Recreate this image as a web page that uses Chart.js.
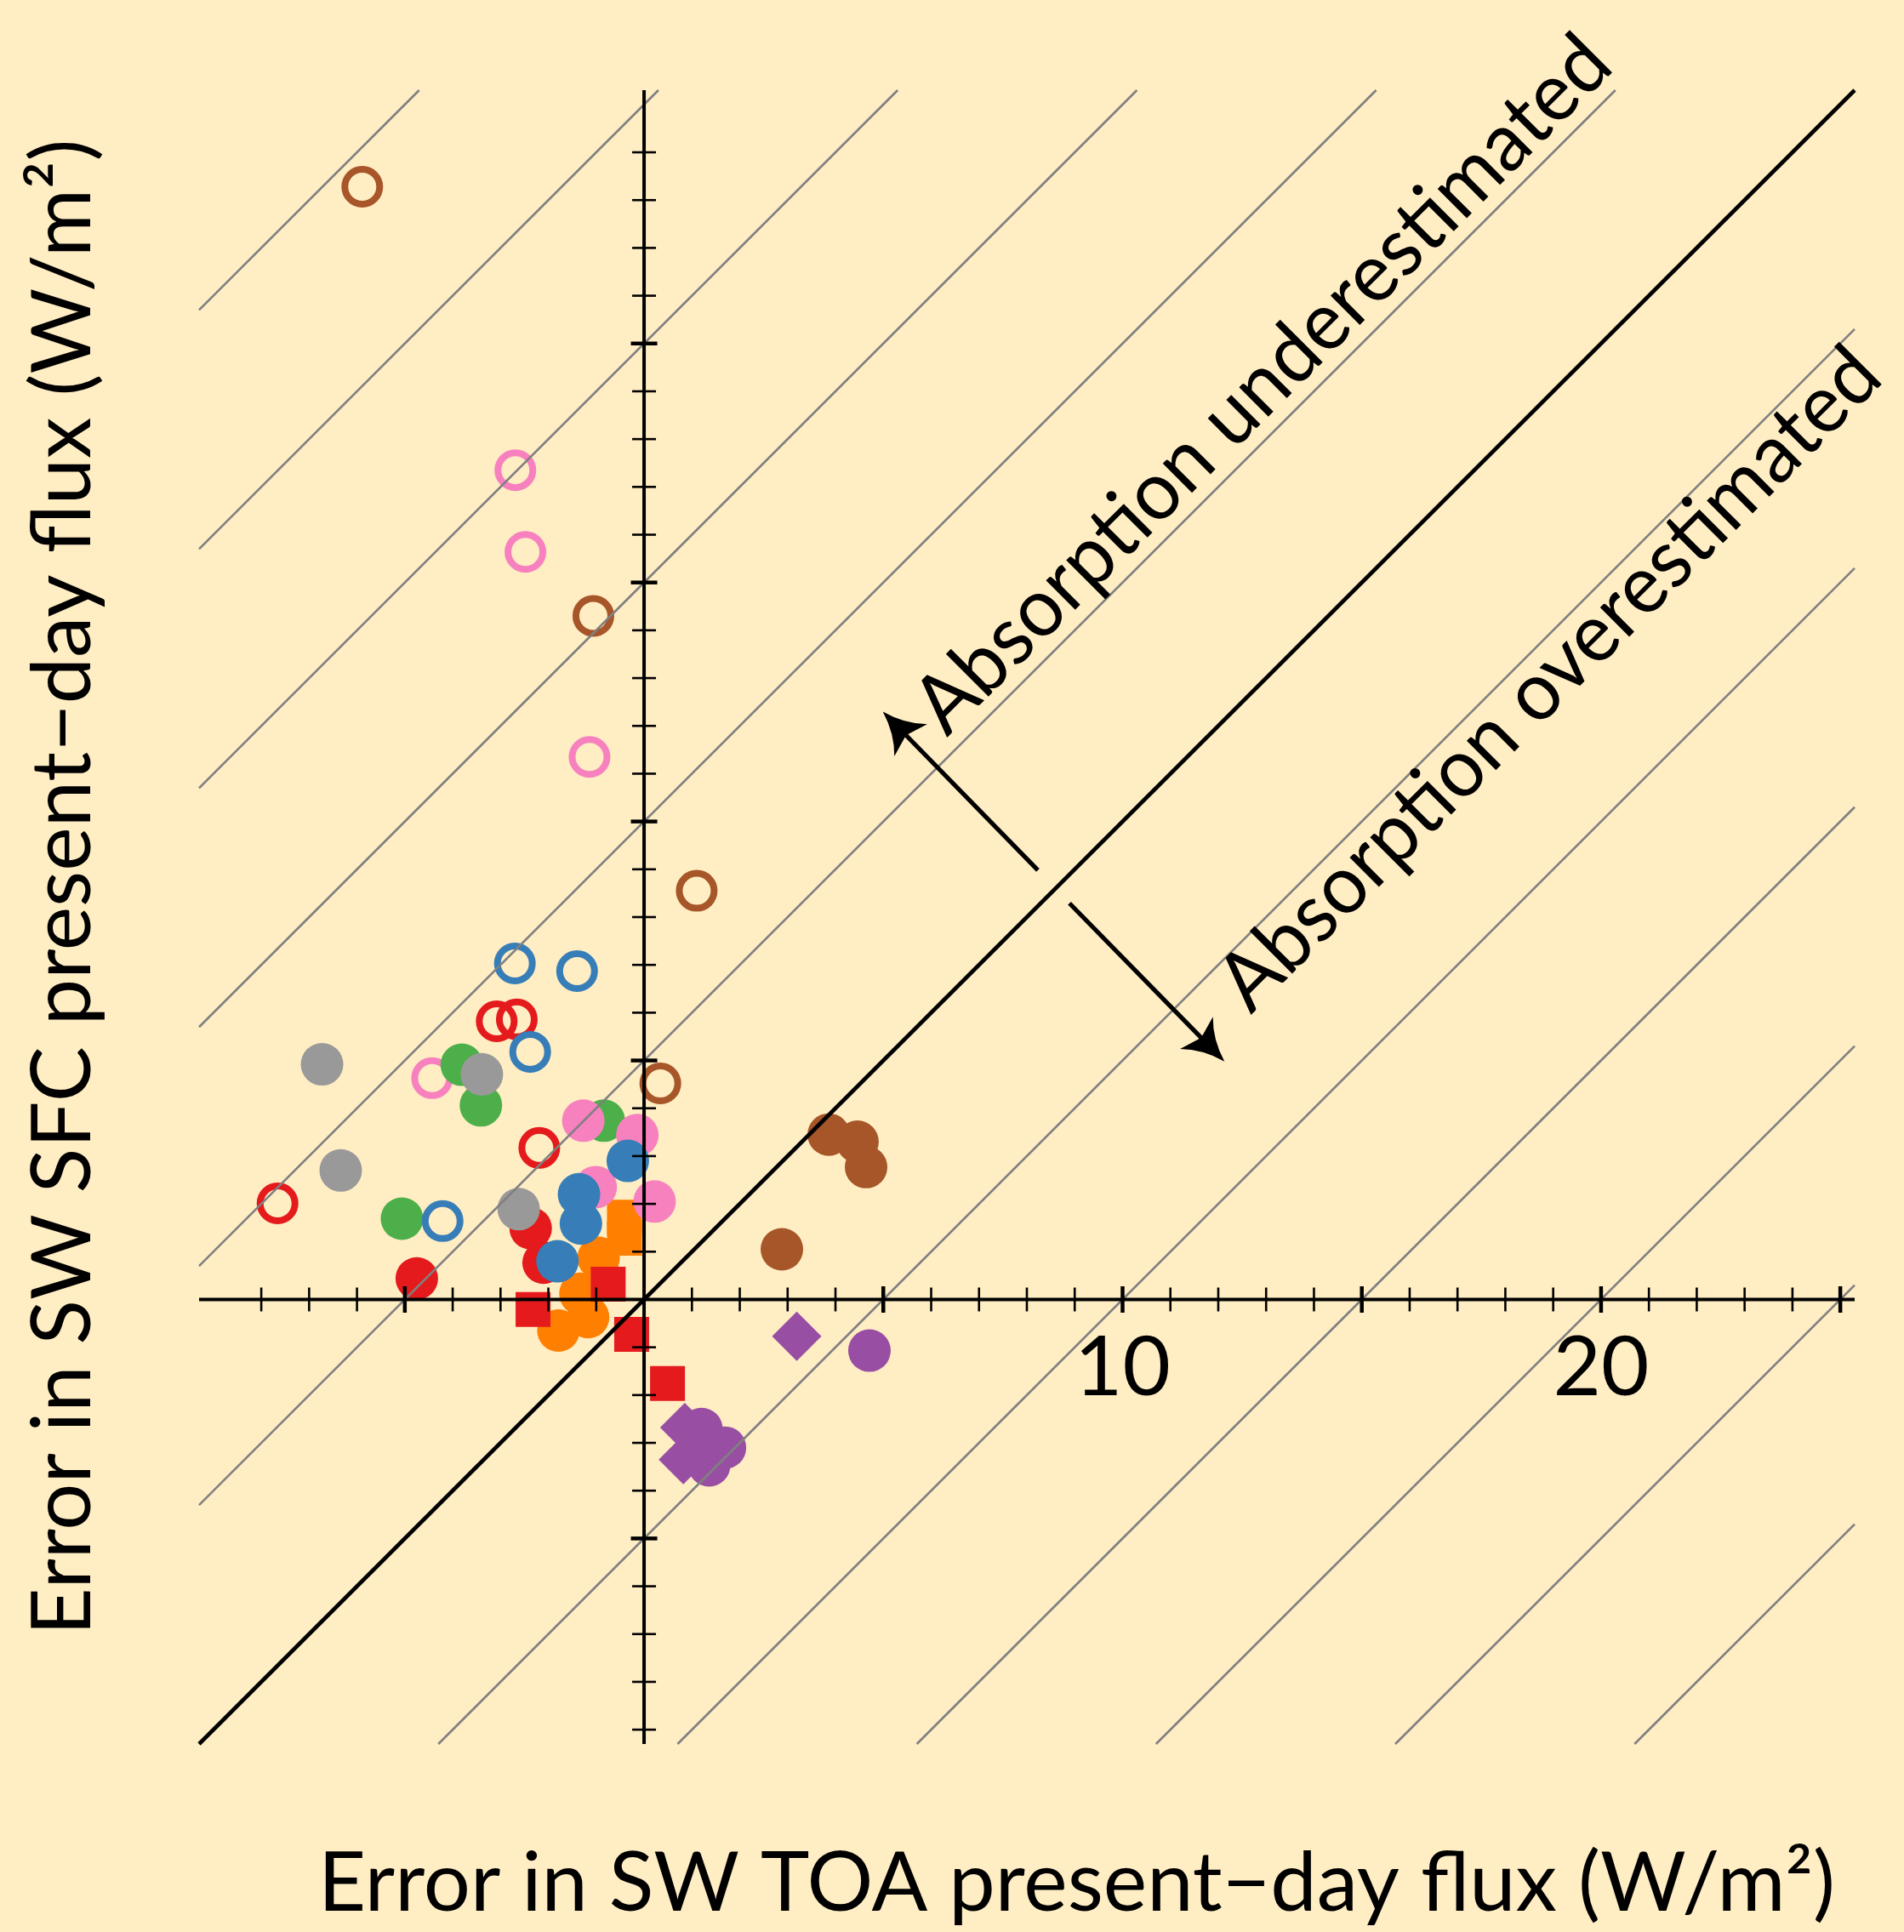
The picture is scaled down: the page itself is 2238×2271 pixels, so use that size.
<!DOCTYPE html>
<html lang="en">
<head>
<meta charset="UTF-8">
<title>SW flux errors: TOA vs surface</title>
<script src="https://cdn.jsdelivr.net/npm/chart.js"></script>
<style>
  html, body { margin: 0; padding: 0; background: #FFEDC4; }
  canvas { display: block; }
</style>
</head>
<body>
<canvas id="scatter" width="2238" height="2271"></canvas>
<script>
// axis ranges, ticks and labels
const xRange = [-9.3, 25.3];
const yRange = [-9.3, 25.3];
const xTicks = [-8, 25];
const yTicks = [-9, 24];
const xTickLabels = [10, 20];
const diagonalOffsets = [-30, -25, -20, -15, -10, -5, 5, 10, 15, 20, 25, 30];
const xTitle = 'Error in SW TOA present\u2212day flux (W/m\u00B2)';
const yTitle = 'Error in SW SFC present\u2212day flux (W/m\u00B2)';
const labelUnder = 'Absorption underestimated';
const labelOver = 'Absorption overestimated';

// [TOA error, SFC error] per series
const grayFilled = [[-6.73, 4.92], [-3.39, 4.71], [-6.34, 2.70], [-2.62, 1.89]];
const blueOpen = [[-2.70, 7.03], [-1.40, 6.87], [-2.38, 5.18], [-4.21, 1.64]];
const blueFilled = [[-0.34, 2.90], [-1.36, 2.20], [-1.32, 1.59], [-1.81, 0.80]];
const pinkFilled = [[-1.27, 3.74], [-0.14, 3.44], [-1.01, 2.35], [0.22, 2.05]];
const greenFilled = [[-3.81, 4.91], [-3.41, 4.06], [-0.84, 3.74], [-5.06, 1.69]];
const pinkOpen = [[-2.69, 17.35], [-2.48, 15.64], [-1.14, 11.35], [-4.43, 4.63]];
const redOpen = [[-3.08, 5.82], [-2.66, 5.86], [-2.19, 3.17], [-7.66, 2.01]];
const redFilled = [[-2.37, 1.49], [-2.10, 0.77], [-4.75, 0.44]];
const redSquare = [[-0.75, 0.32], [-2.32, -0.21], [-0.26, -0.73], [0.49, -1.76]];
const orangeFilled = [[-0.95, 0.87], [-1.33, 0.12], [-1.17, -0.37], [-1.79, -0.65]];
const orangeSquare = [[-0.41, 1.72], [-0.41, 1.28]];
const brownOpen = [[-5.89, 23.28], [-1.06, 14.30], [1.10, 8.55], [0.34, 4.52]];
const brownFilled = [[3.86, 3.45], [4.46, 3.30], [4.64, 2.77], [2.88, 1.05]];
const purpleDiamond = [[3.19, -0.77], [0.85, -2.68], [0.82, -3.35]];
const purpleFilled = [[4.71, -1.07], [1.20, -2.71], [1.69, -3.10], [1.36, -3.47]];

const colors = {
  gray: '#999999', blue: '#377EB8', pink: '#F781BF', green: '#4DAF4A',
  red: '#E41A1C', orange: '#FF7F00', brown: '#A65628', purple: '#984EA3'
};

function series(points, color, kind) {
  const ds = { data: points.map(p => ({ x: p[0], y: p[1] })) };
  if (kind === 'open') {
    Object.assign(ds, { pointStyle: 'circle', pointRadius: 20.5, pointBorderWidth: 8,
      pointBorderColor: color, pointBackgroundColor: 'rgba(0,0,0,0)' });
  } else if (kind === 'square') {
    Object.assign(ds, { pointStyle: 'rect', pointRadius: 29, pointBorderWidth: 0,
      pointBackgroundColor: color });
  } else if (kind === 'diamond') {
    Object.assign(ds, { pointStyle: 'rectRot', pointRadius: 29, pointBorderWidth: 0,
      pointBackgroundColor: color });
  } else {
    Object.assign(ds, { pointStyle: 'circle', pointRadius: 25, pointBorderWidth: 0,
      pointBackgroundColor: color });
  }
  ds.pointHoverRadius = ds.pointRadius;
  return ds;
}

const datasets = [
  series(grayFilled, colors.gray, 'filled'),
  series(blueOpen, colors.blue, 'open'),
  series(blueFilled, colors.blue, 'filled'),
  series(pinkFilled, colors.pink, 'filled'),
  series(greenFilled, colors.green, 'filled'),
  series(pinkOpen, colors.pink, 'open'),
  series(redOpen, colors.red, 'open'),
  series(redFilled, colors.red, 'filled'),
  series(redSquare, colors.red, 'square'),
  series(orangeFilled, colors.orange, 'filled'),
  series(orangeSquare, colors.orange, 'square'),
  series(brownOpen, colors.brown, 'open'),
  series(brownFilled, colors.brown, 'filled'),
  series(purpleDiamond, colors.purple, 'diamond'),
  series(purpleFilled, colors.purple, 'filled')
];

const FONT = '96px Lato, "Open Sans", sans-serif';

const background = {
  id: 'background',
  beforeDraw(chart) {
    const ctx = chart.ctx;
    ctx.save();
    ctx.fillStyle = '#FFEDC4';
    ctx.fillRect(0, 0, chart.width, chart.height);
    ctx.restore();
  }
};

const overlay = {
  id: 'overlay',
  afterDatasetsDraw(chart) {
    const { ctx, chartArea: a } = chart;
    const px = v => chart.scales.x.getPixelForValue(v);
    const py = v => chart.scales.y.getPixelForValue(v);
    const line = (x0, y0, x1, y1) => {
      ctx.beginPath(); ctx.moveTo(x0, y0); ctx.lineTo(x1, y1); ctx.stroke();
    };
    ctx.save();
    ctx.lineCap = 'butt';

    // lines of constant (SFC - TOA) error
    ctx.strokeStyle = '#808080';
    ctx.lineWidth = 2.6;
    diagonalOffsets.forEach(c => {
      const x0 = Math.max(xRange[0], yRange[0] - c);
      const x1 = Math.min(xRange[1], yRange[1] - c);
      if (x1 > x0) line(px(x0), py(x0 + c), px(x1), py(x1 + c));
    });

    // 1:1 line
    ctx.strokeStyle = '#000';
    ctx.lineWidth = 4.6;
    const lo = Math.max(xRange[0], yRange[0]), hi = Math.min(xRange[1], yRange[1]);
    line(px(lo), py(lo), px(hi), py(hi));

    // axes through the origin
    ctx.lineWidth = 4;
    line(a.left, py(0), a.right, py(0));
    line(px(0), a.top, px(0), a.bottom);

    // ticks crossing the axes
    for (let v = xTicks[0]; v <= xTicks[1]; v++) {
      if (v === 0) continue;
      const major = v % 5 === 0;
      ctx.lineWidth = major ? 4.5 : 2.6;
      const h = major ? 15.5 : 14;
      line(px(v), py(0) - h, px(v), py(0) + h);
    }
    for (let v = yTicks[0]; v <= yTicks[1]; v++) {
      if (v === 0) continue;
      const major = v % 5 === 0;
      ctx.lineWidth = major ? 4.5 : 2.6;
      const h = major ? 15.5 : 14;
      line(px(0) - h, py(v), px(0) + h, py(v));
    }

    // text: Lato squeezed to Gill-Sans-like width
    ctx.font = FONT;
    ctx.fillStyle = '#000';
    const sx = 1783 / ctx.measureText(xTitle).width;
    const text = (s, x, y, angle, align, squeeze = 1) => {
      ctx.save();
      ctx.translate(x, y);
      ctx.rotate(angle);
      ctx.scale(sx * squeeze, 1);
      ctx.textAlign = align;
      ctx.textBaseline = 'alphabetic';
      ctx.fillText(s, 0, 0);
      ctx.restore();
    };

    xTickLabels.forEach(v => text(String(v), px(v), py(0) + 113, 0, 'center'));

    text(labelUnder, px(6.33), py(11.75), -Math.PI / 4, 'left', 0.95);
    text(labelOver, px(12.68), py(5.95), -Math.PI / 4, 'left', 0.95);

    text(xTitle, 2157, 2246, 0, 'right');
    text(yTitle, 106, 1043, -Math.PI / 2, 'center');

    // arrows
    const arrow = (x0, y0, x1, y1) => {
      const dx = x1 - x0, dy = y1 - y0, len = Math.hypot(dx, dy);
      const ux = dx / len, uy = dy / len, nx = -uy, ny = ux;
      const L = 47, W = 27, notch = 39;
      ctx.lineWidth = 5.2;
      line(x0, y0, x1 - ux * notch, y1 - uy * notch);
      const bx = x1 - ux * L, by = y1 - uy * L;
      ctx.beginPath();
      ctx.moveTo(x1, y1);
      ctx.quadraticCurveTo(x1 - ux * L * 0.6 + nx * W * 0.3, y1 - uy * L * 0.6 + ny * W * 0.3,
        bx + nx * W, by + ny * W);
      ctx.lineTo(x1 - ux * notch, y1 - uy * notch);
      ctx.lineTo(bx - nx * W, by - ny * W);
      ctx.quadraticCurveTo(x1 - ux * L * 0.6 - nx * W * 0.3, y1 - uy * L * 0.6 - ny * W * 0.3,
        x1, y1);
      ctx.closePath();
      ctx.fill();
    };
    arrow(px(8.23), py(8.98), px(4.99), py(12.30));
    arrow(px(8.89), py(8.29), px(12.13), py(4.98));

    ctx.restore();
  }
};

new Chart(document.getElementById('scatter').getContext('2d'), {
  type: 'scatter',
  data: { datasets },
  options: {
    responsive: false,
    devicePixelRatio: 1,
    animation: false,
    events: [],
    layout: {
      autoPadding: false,
      padding: { left: 234, right: 58, top: 106, bottom: 221 }
    },
    plugins: {
      legend: { display: false },
      tooltip: { enabled: false }
    },
    scales: {
      x: { type: 'linear', min: xRange[0], max: xRange[1], display: false },
      y: { type: 'linear', min: yRange[0], max: yRange[1], display: false }
    }
  },
  plugins: [background, overlay]
});
</script>
</body>
</html>
